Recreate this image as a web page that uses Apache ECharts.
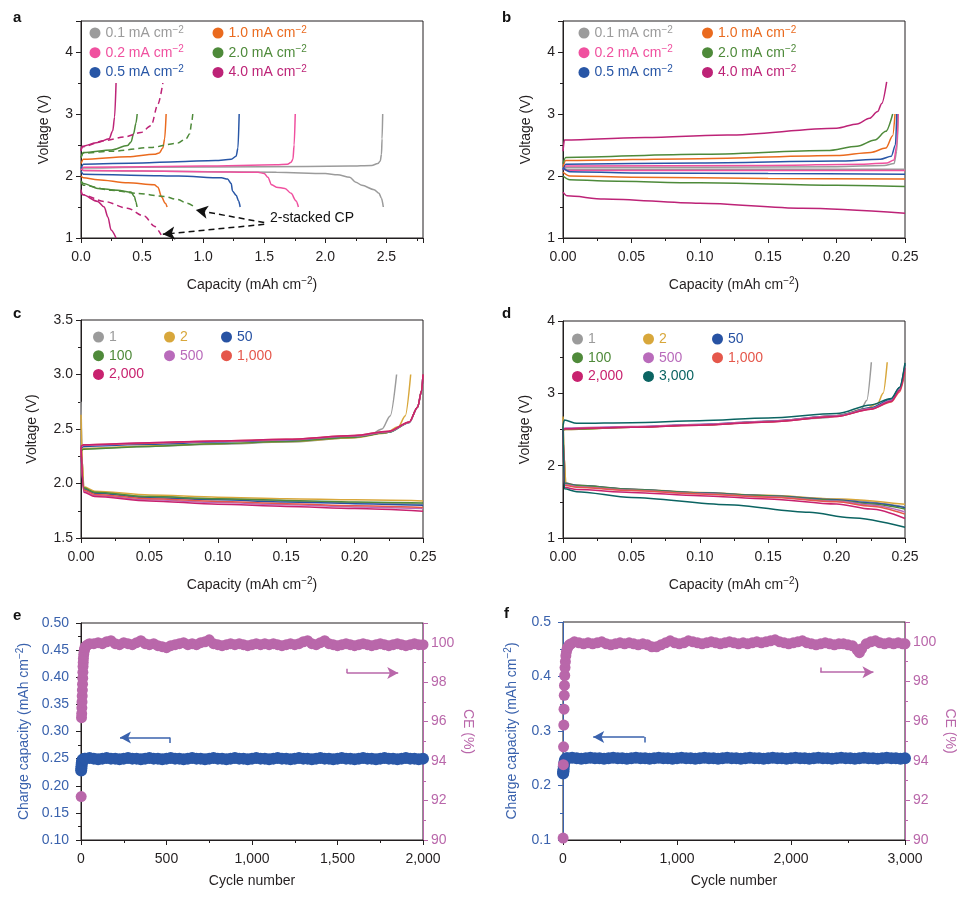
<!DOCTYPE html>
<html><head><meta charset="utf-8">
<script src="https://cdn.jsdelivr.net/npm/echarts@6/dist/echarts.min.js"></script>
<style>html,body{margin:0;padding:0;background:#fff}#c{width:970px;height:899px}</style>
</head><body><div id="c"></div><script>
// ---------- names / colours ----------
const A_NAMES = ['0.1 mA cm−2','0.2 mA cm−2','0.5 mA cm−2','1.0 mA cm−2','2.0 mA cm−2','4.0 mA cm−2'];
const A_COLORS = ['#9b9b9b','#f0509f','#2856a6','#ea6a1e','#4e8a3a','#bd2377'];
const CYC_NAMES = ['1','2','50','100','500','1,000','2,000','3,000'];
const CYC_COLORS = ['#9b9b9b','#d8a73b','#2752a3','#4f8a3a','#b96bbb','#e5574b','#c8226f','#0b6462'];
const CAP_COLOR = '#2a58a8', CE_COLOR = '#b967aa';

// ---------- panel a (capacity, voltage) ----------
const a01c = [[0,2.10],[0.02,2.13],[0.5,2.14],[1.5,2.15],[2.2,2.16],[2.38,2.17],[2.43,2.2],[2.45,2.24],[2.46,2.35],[2.465,2.6],[2.47,3.0]];
const a01d = [[0,2.12],[0.02,2.09],[0.5,2.08],[1.6,2.06],[2.0,2.04],[2.1,2.02],[2.2,1.98],[2.25,1.9],[2.3,1.85],[2.4,1.78],[2.44,1.72],[2.46,1.64],[2.475,1.5]];
const a02c = [[0,2.1],[0.02,2.14],[1.0,2.16],[1.6,2.18],[1.69,2.19],[1.72,2.22],[1.735,2.27],[1.745,2.5],[1.754,3.0]];
const a02d = [[0,2.12],[0.02,2.09],[1.0,2.07],[1.45,2.06],[1.5,2.04],[1.53,1.98],[1.56,1.86],[1.6,1.82],[1.67,1.8],[1.72,1.72],[1.76,1.6],[1.78,1.5]];
const a05c = [[0,2.12],[0.02,2.19],[0.5,2.21],[0.79,2.23],[1.1,2.25],[1.23,2.27],[1.27,2.32],[1.285,2.45],[1.295,3.0]];
const a05d = [[0,2.08],[0.02,2.03],[0.5,2.01],[0.8,2.0],[1.15,1.97],[1.2,1.95],[1.23,1.88],[1.24,1.76],[1.27,1.69],[1.29,1.6],[1.303,1.5]];
const a10c = [[0,2.2],[0.02,2.27],[0.385,2.31],[0.6,2.35],[0.64,2.37],[0.67,2.45],[0.685,2.6],[0.697,3.0]];
const a10d = [[0,2.0],[0.02,1.97],[0.137,1.94],[0.385,1.89],[0.6,1.86],[0.63,1.82],[0.66,1.66],[0.69,1.56],[0.705,1.5]];
const a20c = [[0,2.3],[0.02,2.38],[0.25,2.42],[0.38,2.49],[0.41,2.55],[0.43,2.68],[0.45,2.85],[0.46,3.0]];
const a20d = [[0,1.92],[0.02,1.88],[0.137,1.8],[0.3,1.77],[0.41,1.74],[0.437,1.67],[0.45,1.58],[0.459,1.5]];
const a40c = [[0,2.4],[0.01,2.48],[0.137,2.54],[0.23,2.6],[0.26,2.73],[0.275,2.95],[0.287,3.5]];
const a40d = [[0,1.78],[0.01,1.7],[0.137,1.59],[0.19,1.5],[0.22,1.34],[0.246,1.13],[0.287,1.0]];
const a20c_stack = [[0,2.3],[0.02,2.37],[0.25,2.4],[0.57,2.46],[0.79,2.53],[0.86,2.6],[0.89,2.68],[0.905,2.85],[0.915,3.0]];
const a20d_stack = [[0,1.9],[0.02,1.85],[0.25,1.77],[0.46,1.72],[0.68,1.67],[0.79,1.62],[0.87,1.56],[0.93,1.5]];
const a40c_stack = [[0,2.42],[0.01,2.47],[0.19,2.57],[0.355,2.63],[0.49,2.7],[0.574,2.81],[0.63,3.16],[0.67,3.5]];
const a40d_stack = [[0,1.75],[0.01,1.7],[0.19,1.59],[0.38,1.48],[0.52,1.35],[0.6,1.19],[0.656,1.05]];
const A_ARROWS = [[[1.50,1.25],[0.94,1.45]],[[1.50,1.22],[0.67,1.06]]];

// ---------- panel b ----------
const b01c = [[0,2.1],[0.002,2.14],[0.1,2.14],[0.2,2.15],[0.235,2.17],[0.242,2.2],[0.244,2.4],[0.2451,3.0]];
const b01d = [[0,2.13],[0.003,2.11],[0.25,2.11]];
const b02c = [[0,2.1],[0.002,2.16],[0.15,2.17],[0.22,2.19],[0.237,2.21],[0.242,2.26],[0.244,2.5],[0.245,3.0]];
const b02d = [[0,2.12],[0.003,2.09],[0.25,2.09]];
const b05c = [[0,2.1],[0.002,2.19],[0.1,2.21],[0.2,2.24],[0.232,2.27],[0.24,2.32],[0.243,2.5],[0.244,3.0]];
const b05d = [[0,2.13],[0.005,2.07],[0.05,2.05],[0.15,2.04],[0.25,2.03]];
const b10c = [[0,2.15],[0.002,2.25],[0.1,2.28],[0.2,2.33],[0.225,2.38],[0.236,2.45],[0.241,2.65],[0.2427,3.0]];
const b10d = [[0,2.06],[0.005,2.0],[0.05,1.98],[0.15,1.96],[0.25,1.95]];
const b20c = [[0,2.2],[0.002,2.3],[0.1,2.35],[0.193,2.41],[0.215,2.48],[0.228,2.58],[0.236,2.72],[0.241,3.0]];
const b20d = [[0,2.0],[0.005,1.94],[0.03,1.92],[0.1,1.89],[0.2,1.85],[0.25,1.83]];
const b40c = [[0,2.4],[0.001,2.58],[0.06,2.62],[0.12,2.66],[0.2,2.77],[0.215,2.84],[0.224,2.93],[0.23,3.04],[0.233,3.17],[0.2366,3.52]];
const b40d = [[0,1.74],[0.003,1.68],[0.03,1.63],[0.1,1.56],[0.175,1.48],[0.25,1.40]];

// ---------- panel c (cycle number curves) ----------
const c1c = [[0,2.3],[0.002,2.32],[0.05,2.34],[0.1,2.36],[0.15,2.38],[0.2,2.42],[0.212,2.45],[0.22,2.5],[0.226,2.62],[0.2307,3.0]];
const c1d = [[0,2.75],[0.001,2.2],[0.002,1.96],[0.01,1.92],[0.05,1.88],[0.1,1.86],[0.15,1.84],[0.2,1.825],[0.25,1.81]];
const c2c = [[0,2.3],[0.002,2.32],[0.05,2.345],[0.1,2.365],[0.15,2.385],[0.2,2.42],[0.222,2.46],[0.232,2.52],[0.237,2.62],[0.241,3.0]];
const c2d = [[0,2.63],[0.001,2.2],[0.002,1.97],[0.01,1.93],[0.05,1.895],[0.1,1.875],[0.15,1.86],[0.2,1.85],[0.25,1.84]];
const c50c = [[0,2.32],[0.002,2.34],[0.05,2.36],[0.1,2.38],[0.15,2.395],[0.2,2.43],[0.225,2.47],[0.24,2.56],[0.246,2.7],[0.249,2.85],[0.25,3.0]];
const c50d = [[0,2.3],[0.002,1.95],[0.01,1.91],[0.05,1.87],[0.1,1.85],[0.15,1.83],[0.2,1.815],[0.25,1.80]];
const c100c = [[0,2.3],[0.002,2.315],[0.05,2.34],[0.1,2.365],[0.15,2.385],[0.2,2.425],[0.225,2.47],[0.24,2.56],[0.246,2.7],[0.249,2.85],[0.25,3.0]];
const c100d = [[0,2.3],[0.002,1.96],[0.01,1.92],[0.05,1.88],[0.1,1.86],[0.15,1.845],[0.2,1.83],[0.25,1.82]];
const c500c = [[0,2.33],[0.002,2.35],[0.05,2.37],[0.1,2.385],[0.15,2.4],[0.2,2.435],[0.225,2.475],[0.24,2.56],[0.246,2.7],[0.249,2.85],[0.25,3.0]];
const c500d = [[0,2.32],[0.002,1.93],[0.01,1.89],[0.05,1.85],[0.1,1.825],[0.15,1.805],[0.2,1.785],[0.25,1.77]];
const c1000c = [[0,2.34],[0.002,2.355],[0.05,2.37],[0.1,2.39],[0.15,2.405],[0.2,2.44],[0.225,2.48],[0.24,2.565],[0.246,2.7],[0.249,2.85],[0.25,3.0]];
const c1000d = [[0,2.33],[0.002,1.94],[0.01,1.9],[0.05,1.86],[0.1,1.835],[0.15,1.815],[0.2,1.795],[0.25,1.78]];
const c2000c = [[0,2.34],[0.002,2.355],[0.05,2.375],[0.1,2.39],[0.15,2.405],[0.2,2.44],[0.225,2.48],[0.24,2.565],[0.246,2.7],[0.249,2.85],[0.25,3.0]];
const c2000d = [[0,2.34],[0.002,1.92],[0.01,1.88],[0.05,1.84],[0.1,1.81],[0.15,1.79],[0.2,1.77],[0.25,1.745]];

// ---------- panel d ----------
const d1c = [[0,2.49],[0.002,2.5],[0.05,2.53],[0.1,2.565],[0.15,2.61],[0.19,2.66],[0.21,2.72],[0.218,2.78],[0.222,2.9],[0.2254,3.43]];
const d1d = [[0,2.64],[0.001,2.1],[0.002,1.75],[0.01,1.72],[0.05,1.67],[0.1,1.625],[0.15,1.585],[0.2,1.535],[0.25,1.43]];
const d2c = [[0,2.49],[0.002,2.5],[0.05,2.53],[0.1,2.565],[0.15,2.61],[0.2,2.69],[0.222,2.79],[0.23,2.86],[0.234,3.0],[0.237,3.43]];
const d2d = [[0,2.68],[0.001,2.1],[0.002,1.76],[0.01,1.73],[0.05,1.675],[0.1,1.63],[0.15,1.59],[0.2,1.54],[0.25,1.465]];
const d50c = [[0,2.5],[0.002,2.51],[0.05,2.535],[0.1,2.57],[0.15,2.615],[0.2,2.69],[0.225,2.8],[0.24,2.92],[0.246,3.08],[0.25,3.4]];
const d50d = [[0,2.5],[0.001,1.76],[0.01,1.73],[0.05,1.675],[0.1,1.625],[0.15,1.585],[0.2,1.53],[0.225,1.485],[0.25,1.42]];
const d100c = [[0,2.5],[0.002,2.505],[0.05,2.53],[0.1,2.565],[0.15,2.61],[0.2,2.685],[0.225,2.79],[0.24,2.9],[0.246,3.06],[0.25,3.38]];
const d100d = [[0,2.5],[0.001,1.75],[0.01,1.725],[0.05,1.67],[0.1,1.62],[0.15,1.58],[0.2,1.52],[0.225,1.47],[0.25,1.40]];
const d500c = [[0,2.51],[0.002,2.52],[0.05,2.54],[0.1,2.57],[0.15,2.615],[0.2,2.69],[0.225,2.79],[0.24,2.9],[0.246,3.06],[0.25,3.38]];
const d500d = [[0,2.51],[0.001,1.74],[0.01,1.71],[0.05,1.66],[0.1,1.615],[0.15,1.57],[0.2,1.51],[0.225,1.455],[0.25,1.36]];
const d1000c = [[0,2.5],[0.002,2.51],[0.05,2.53],[0.1,2.56],[0.15,2.605],[0.2,2.68],[0.225,2.78],[0.24,2.88],[0.246,3.02],[0.25,3.3]];
const d1000d = [[0,2.5],[0.001,1.73],[0.01,1.7],[0.05,1.655],[0.1,1.61],[0.15,1.565],[0.2,1.5],[0.225,1.44],[0.25,1.33]];
const d2000c = [[0,2.5],[0.002,2.51],[0.05,2.53],[0.1,2.56],[0.15,2.605],[0.2,2.68],[0.225,2.78],[0.24,2.89],[0.246,3.04],[0.25,3.35]];
const d2000d = [[0,2.5],[0.001,1.7],[0.01,1.67],[0.05,1.63],[0.1,1.585],[0.15,1.54],[0.2,1.47],[0.225,1.4],[0.25,1.27]];
const d3000c = [[0,2.55],[0.001,2.63],[0.01,2.585],[0.05,2.595],[0.1,2.62],[0.15,2.66],[0.2,2.72],[0.225,2.84],[0.24,2.93],[0.246,3.08],[0.25,3.42]];
const d3000d = [[0,2.55],[0.001,1.68],[0.01,1.64],[0.05,1.56],[0.12,1.46],[0.18,1.355],[0.21,1.28],[0.25,1.15]];

// ---------- panel e (cycle, value) ----------
const eCap = [[1,0.228],[2,0.232],[3,0.236],[4,0.24],[5,0.243],[7,0.246],[10,0.248],[15,0.249],[20,0.25],[25,0.25],[50,0.251],[75,0.25],[100,0.249],[125,0.25],[150,0.251],[175,0.25],[200,0.25],[225,0.249],[250,0.25],[275,0.251],[300,0.25],[325,0.25],[350,0.249],[375,0.25],[400,0.251],[425,0.25],[450,0.25],[475,0.249],[500,0.25],[525,0.251],[550,0.25],[575,0.25],[600,0.249],[625,0.25],[650,0.251],[675,0.25],[700,0.25],[725,0.249],[750,0.25],[775,0.251],[800,0.25],[825,0.25],[850,0.249],[875,0.25],[900,0.251],[925,0.25],[950,0.25],[975,0.249],[1000,0.25],[1025,0.251],[1050,0.25],[1075,0.25],[1100,0.249],[1125,0.25],[1150,0.251],[1175,0.25],[1200,0.25],[1225,0.249],[1250,0.25],[1275,0.251],[1300,0.25],[1325,0.25],[1350,0.249],[1375,0.25],[1400,0.251],[1425,0.25],[1450,0.25],[1475,0.249],[1500,0.25],[1525,0.251],[1550,0.25],[1575,0.25],[1600,0.249],[1625,0.25],[1650,0.251],[1675,0.25],[1700,0.25],[1725,0.249],[1750,0.25],[1775,0.251],[1800,0.25],[1825,0.25],[1850,0.249],[1875,0.25],[1900,0.251],[1925,0.25],[1950,0.25],[1975,0.249],[2000,0.25]];
const eCE = [[1,92.2],[3,96.2],[4,96.4],[5,96.7],[6,97.0],[7,97.3],[8,97.6],[9,97.9],[10,98.2],[11,98.5],[12,98.8],[13,99.0],[14,99.2],[16,99.4],[18,99.55],[20,99.65],[23,99.75],[27,99.8],[32,99.85],[40,99.9],[50,99.95],[75,99.95],[100,100.0],[125,99.95],[150,100.05],[175,100.1],[200,99.95],[225,99.9],[250,100.0],[275,99.95],[300,99.9],[325,100.0],[350,100.1],[375,99.95],[400,99.9],[425,99.95],[450,99.85],[475,99.8],[500,99.75],[525,99.85],[550,99.9],[575,99.95],[600,100.0],[625,99.9],[650,99.95],[675,99.9],[700,100.0],[725,100.05],[750,100.15],[775,99.95],[800,99.9],[825,99.85],[850,99.9],[875,99.95],[900,99.9],[925,99.95],[950,99.9],[975,99.85],[1000,99.9],[1025,99.95],[1050,99.9],[1075,99.95],[1100,99.9],[1125,99.95],[1150,99.9],[1175,99.85],[1200,99.9],[1225,99.95],[1250,99.9],[1275,99.95],[1300,100.05],[1325,100.1],[1350,99.95],[1375,99.9],[1400,100.0],[1425,100.1],[1450,99.95],[1475,99.9],[1500,99.85],[1525,99.9],[1550,99.95],[1575,99.9],[1600,99.85],[1625,99.9],[1650,99.95],[1675,99.9],[1700,99.85],[1725,99.9],[1750,99.95],[1775,99.9],[1800,99.85],[1825,99.9],[1850,99.95],[1875,99.9],[1900,99.85],[1925,99.9],[1950,99.95],[1975,99.9],[2000,99.9]];
const E_ARROW_CAP = [[520,0.289],[228,0.289]], E_ARROW_CAP_TAIL = [[520,0.279],[520,0.289]];
const E_ARROW_CE = [[1554,98.47],[1855,98.47]], E_ARROW_CE_TAIL = [[1554,98.68],[1554,98.47]];

// ---------- panel f ----------
const fCap = [[1,0.222],[2,0.224],[3,0.226],[5,0.23],[7,0.235],[10,0.24],[15,0.245],[20,0.248],[30,0.25],[40,0.25],[80,0.251],[120,0.25],[160,0.249],[200,0.25],[240,0.251],[280,0.25],[320,0.25],[360,0.249],[400,0.25],[440,0.251],[480,0.25],[520,0.25],[560,0.249],[600,0.25],[640,0.251],[680,0.25],[720,0.25],[760,0.249],[800,0.25],[840,0.251],[880,0.25],[920,0.25],[960,0.249],[1000,0.25],[1040,0.251],[1080,0.25],[1120,0.25],[1160,0.249],[1200,0.25],[1240,0.251],[1280,0.25],[1320,0.25],[1360,0.249],[1400,0.25],[1440,0.251],[1480,0.25],[1520,0.25],[1560,0.249],[1600,0.25],[1640,0.251],[1680,0.25],[1720,0.25],[1760,0.249],[1800,0.25],[1840,0.251],[1880,0.25],[1920,0.25],[1960,0.249],[2000,0.25],[2040,0.251],[2080,0.25],[2120,0.25],[2160,0.249],[2200,0.25],[2240,0.251],[2280,0.25],[2320,0.25],[2360,0.249],[2400,0.25],[2440,0.251],[2480,0.25],[2520,0.25],[2560,0.249],[2600,0.25],[2640,0.251],[2680,0.25],[2720,0.25],[2760,0.249],[2800,0.25],[2840,0.251],[2880,0.25],[2920,0.25],[2960,0.249],[3000,0.25]];
const fCE = [[1,90.1],[3,93.8],[5,94.7],[7,95.8],[9,96.6],[11,97.3],[13,97.8],[15,98.3],[18,98.7],[21,99.0],[25,99.3],[30,99.5],[36,99.65],[45,99.75],[55,99.85],[70,99.9],[100,100.0],[140,99.95],[180,99.9],[220,99.95],[260,99.9],[300,99.95],[340,100.0],[380,99.9],[420,99.85],[460,99.9],[500,99.95],[540,99.9],[580,99.95],[620,99.9],[660,99.85],[700,99.9],[740,99.85],[780,99.75],[820,99.75],[860,99.85],[900,99.95],[940,100.05],[980,99.95],[1020,99.9],[1060,99.95],[1100,100.05],[1140,100.0],[1180,99.95],[1220,99.9],[1260,99.95],[1300,100.0],[1340,99.95],[1380,99.9],[1420,99.95],[1460,100.0],[1500,99.95],[1540,99.9],[1580,99.95],[1620,99.9],[1660,99.95],[1700,100.0],[1740,99.95],[1780,100.0],[1820,100.05],[1860,100.1],[1900,100.0],[1940,99.95],[1980,99.9],[2020,99.95],[2060,100.0],[2100,100.05],[2140,99.95],[2180,99.9],[2220,99.85],[2260,99.9],[2300,99.95],[2340,99.9],[2380,99.85],[2420,99.9],[2460,99.9],[2500,99.85],[2540,99.8],[2580,99.6],[2600,99.45],[2620,99.65],[2660,99.9],[2700,100.0],[2740,100.05],[2780,99.95],[2820,99.9],[2860,99.95],[2900,99.9],[2940,99.95],[2980,99.9],[3000,99.9]];
const F_ARROW_CAP = [[714,0.289],[265,0.289]], F_ARROW_CAP_TAIL = [[714,0.279],[714,0.289]];
const F_ARROW_CE = [[2257,98.47],[2723,98.47]], F_ARROW_CE_TAIL = [[2257,98.7],[2257,98.47]];

// ---------- tick label lists ----------
const A_XFMT = v => (v > 2.6 ? '' : v.toFixed(1));
const INT_FMT = v => (Math.abs(v - Math.round(v)) < 1e-9 ? String(Math.round(v)) : '');
const B_XFMT = v => v.toFixed(2);
const C_YFMT = v => v.toFixed(1);
const COMMA_FMT = v => v.toLocaleString('en-US');
const CE_FMT = v => (v > 100.5 ? '' : String(v));

// ---------- build ----------
const FONT = '"Liberation Sans", Arial, Helvetica, sans-serif';
const INK = '#231f20';

function nameStyle(color) {
  return { color, fontFamily: FONT, fontSize: 14,
    rich: { t: { color, fontFamily: FONT, fontSize: 14, lineHeight: 18 },
            s: { color, fontFamily: FONT, fontSize: 10, lineHeight: 10, verticalAlign: 'top' } } };
}
const CAP_NAME = '{t|Capacity (mAh cm}{s|−2}{t|)}';

function xAx(gi, min, max, interval, fmt, name, nameGap) {
  return { type: 'value', gridIndex: gi, min, max, interval, position: 'bottom',
    axisLine: { show: true, onZero: false, lineStyle: { color: INK, width: 1 } },
    axisTick: { show: true, length: 5, lineStyle: { color: INK, width: 1 } },
    minorTick: { show: true, splitNumber: 2, length: 3, lineStyle: { color: INK, width: 1 } },
    splitLine: { show: false }, minorSplitLine: { show: false },
    axisLabel: { color: INK, fontFamily: FONT, fontSize: 14, margin: 12, formatter: fmt },
    name, nameLocation: 'middle', nameGap, nameTextStyle: nameStyle(INK) };
}
function yAx(gi, min, max, interval, fmt, name, nameGap, opt) {
  opt = opt || {};
  const lineColor = opt.lineColor || INK, labelColor = opt.labelColor || INK, nameColor = opt.nameColor || INK;
  return { type: 'value', gridIndex: gi, min, max, interval, position: opt.position || 'left',
    axisLine: { show: true, onZero: false, lineStyle: { color: lineColor, width: 1 } },
    axisTick: { show: true, length: 5, lineStyle: { color: lineColor, width: 1 } },
    minorTick: { show: true, splitNumber: 2, length: 3, lineStyle: { color: lineColor, width: 1 } },
    splitLine: { show: false }, minorSplitLine: { show: false },
    axisLabel: { color: labelColor, fontFamily: FONT, fontSize: 14, margin: opt.margin || 8, formatter: fmt },
    name, nameLocation: 'middle', nameGap, nameRotate: opt.nameRotate, nameTextStyle: nameStyle(nameColor) };
}

const grids = [
  { left: 81, top: 21, width: 342, height: 217 },
  { left: 563, top: 21, width: 342, height: 217 },
  { left: 81, top: 320, width: 342, height: 218 },
  { left: 563, top: 321, width: 342, height: 217 },
  { left: 81, top: 623, width: 342, height: 217 },
  { left: 563, top: 622, width: 342, height: 218 }
].map(g => Object.assign({ show: true, borderColor: INK, borderWidth: 1, backgroundColor: 'transparent', containLabel: false }, g));

const xAxes = [
  xAx(0, 0, 2.8, 0.5, A_XFMT, CAP_NAME, 38),
  xAx(1, 0, 0.25, 0.05, B_XFMT, CAP_NAME, 38),
  xAx(2, 0, 0.25, 0.05, B_XFMT, CAP_NAME, 38),
  xAx(3, 0, 0.25, 0.05, B_XFMT, CAP_NAME, 38),
  xAx(4, 0, 2000, 500, COMMA_FMT, 'Cycle number', 34),
  xAx(5, 0, 3000, 1000, COMMA_FMT, 'Cycle number', 34)
];
const CHG_NAME = '{t|Charge capacity (mAh cm}{s|−2}{t|)}';
const yAxes = [
  yAx(0, 1, 4.5, 1, INT_FMT, 'Voltage (V)', 30),
  yAx(1, 1, 4.5, 1, INT_FMT, 'Voltage (V)', 30),
  yAx(2, 1.5, 3.5, 0.5, C_YFMT, 'Voltage (V)', 42),
  yAx(3, 1, 4, 1, INT_FMT, 'Voltage (V)', 31),
  yAx(4, 0.1, 0.5, 0.05, v => v.toFixed(2), CHG_NAME, 48, { labelColor: '#3a62ad', nameColor: '#3a62ad', margin: 12 }),
  yAx(4, 90, 101, 2, CE_FMT, 'CE (%)', 38, { position: 'right', lineColor: CE_COLOR, labelColor: CE_COLOR, nameColor: CE_COLOR, nameRotate: -90 }),
  yAx(5, 0.1, 0.5, 0.1, v => v.toFixed(1), CHG_NAME, 42, { labelColor: '#3a62ad', nameColor: '#3a62ad', lineColor: '#3a62ad', margin: 12 }),
  yAx(5, 90, 101, 2, CE_FMT, 'CE (%)', 38, { position: 'right', lineColor: CE_COLOR, labelColor: CE_COLOR, nameColor: CE_COLOR, nameRotate: -90 })
];

const series = [];
function addLine(name, data, color, idx, dashed, extra) {
  series.push(Object.assign({ type: 'line', name, data, xAxisIndex: idx, yAxisIndex: idx,
    showSymbol: false, symbol: 'none', smooth: 0.3, smoothMonotone: 'x', clip: true,
    lineStyle: { color, width: 1.5, type: dashed ? [6, 4] : 'solid' },
    itemStyle: { color, borderWidth: 0 }, emphasis: { disabled: true }, silent: true, z: 2 }, extra || {}));
}
// a
const A_SOLID = [[a01c, a01d], [a02c, a02d], [a05c, a05d], [a10c, a10d], [a20c, a20d], [a40c, a40d]];
A_SOLID.forEach((p, i) => { addLine(A_NAMES[i], p[0], A_COLORS[i], 0); addLine(A_NAMES[i], p[1], A_COLORS[i], 0); });
addLine(A_NAMES[4], a20c_stack, A_COLORS[4], 0, true);
addLine(A_NAMES[4], a20d_stack, A_COLORS[4], 0, true, {
  markLine: { silent: true, animation: false, symbol: ['none', 'arrow'], symbolSize: [10, 12], label: { show: false },
    lineStyle: { color: '#111', width: 1.5, type: [6, 4] }, emphasis: { disabled: true },
    data: A_ARROWS.map(s => [{ coord: s[0] }, { coord: s[1] }]) } });
addLine(A_NAMES[5], a40c_stack, A_COLORS[5], 0, true);
addLine(A_NAMES[5], a40d_stack, A_COLORS[5], 0, true);
// b
const B_SET = [[b01c, b01d], [b02c, b02d], [b05c, b05d], [b10c, b10d], [b20c, b20d], [b40c, b40d]];
B_SET.forEach((p, i) => { addLine(A_NAMES[i], p[0], A_COLORS[i], 1); addLine(A_NAMES[i], p[1], A_COLORS[i], 1); });
// c
const C_SET = [[c1c, c1d], [c2c, c2d], [c50c, c50d], [c100c, c100d], [c500c, c500d], [c1000c, c1000d], [c2000c, c2000d]];
C_SET.forEach((p, i) => { addLine(CYC_NAMES[i], p[0], CYC_COLORS[i], 2); addLine(CYC_NAMES[i], p[1], CYC_COLORS[i], 2); });
// d
const D_SET = [[d1c, d1d], [d2c, d2d], [d50c, d50d], [d100c, d100d], [d500c, d500d], [d1000c, d1000d], [d2000c, d2000d], [d3000c, d3000d]];
D_SET.forEach((p, i) => { addLine(CYC_NAMES[i], p[0], CYC_COLORS[i], 3); addLine(CYC_NAMES[i], p[1], CYC_COLORS[i], 3); });

function arrowML(color, main, tail) {
  return { silent: true, animation: false, symbol: ['none', 'arrow'], symbolSize: [9, 11], label: { show: false },
    lineStyle: { color, width: 1.5, type: 'solid' }, emphasis: { disabled: true },
    data: [[{ coord: main[0] }, { coord: main[1] }], [{ coord: tail[0], symbol: 'none' }, { coord: tail[1], symbol: 'none' }]] };
}
function addScatter(name, data, color, xi, yi, size, ml) {
  series.push({ type: 'scatter', name, data, xAxisIndex: xi, yAxisIndex: yi, symbol: 'circle', symbolSize: size,
    itemStyle: { color, opacity: 1 }, emphasis: { disabled: true }, silent: true, markLine: ml, z: 3 });
}
addScatter('Charge capacity e', eCap, CAP_COLOR, 4, 4, 12, arrowML('#3a62ad', E_ARROW_CAP, E_ARROW_CAP_TAIL));
addScatter('CE e', eCE, CE_COLOR, 4, 5, 11, arrowML(CE_COLOR, E_ARROW_CE, E_ARROW_CE_TAIL));
addScatter('Charge capacity f', fCap, CAP_COLOR, 5, 6, 12, arrowML('#3a62ad', F_ARROW_CAP, F_ARROW_CAP_TAIL));
addScatter('CE f', fCE, CE_COLOR, 5, 7, 11, arrowML(CE_COLOR, F_ARROW_CE, F_ARROW_CE_TAIL));

// legends
const RICH = {};
A_COLORS.forEach((c, i) => {
  RICH['a' + i] = { color: c, fontFamily: FONT, fontSize: 14, lineHeight: 16 };
  RICH['a' + i + 's'] = { color: c, fontFamily: FONT, fontSize: 10, lineHeight: 10, verticalAlign: 'top' };
});
CYC_COLORS.forEach((c, i) => { RICH['c' + i] = { color: c, fontFamily: FONT, fontSize: 14, lineHeight: 16 }; });
function fmtLegend(name) {
  let i = A_NAMES.indexOf(name);
  if (i >= 0) return '{a' + i + '|' + name.slice(0, -2) + '}{a' + i + 's|−2}';
  i = CYC_NAMES.indexOf(name);
  return '{c' + i + '|' + name + '}';
}
function legend(names, left, top) {
  return { orient: 'vertical', left, top, padding: 0, itemGap: 4.7, itemWidth: 11, itemHeight: 11, icon: 'circle',
    selectedMode: false, data: names, formatter: fmtLegend, textStyle: { fontFamily: FONT, fontSize: 14, rich: RICH } };
}
const legends = [
  legend([A_NAMES[0], A_NAMES[1], A_NAMES[2]], 89.5, 25),
  legend([A_NAMES[3], A_NAMES[4], A_NAMES[5]], 212.5, 25),
  legend([A_NAMES[0], A_NAMES[1], A_NAMES[2]], 578.5, 25),
  legend([A_NAMES[3], A_NAMES[4], A_NAMES[5]], 702, 25),
  legend(['1', '100', '2,000'], 93, 330),
  legend(['2', '500'], 164, 330),
  legend(['50', '1,000'], 221, 330),
  legend(['1', '100', '2,000'], 572, 332),
  legend(['2', '500', '3,000'], 643, 332),
  legend(['50', '1,000'], 712, 332)
];

const letters = [['a', 13, 10], ['b', 502, 10], ['c', 13, 306], ['d', 502, 306], ['e', 13, 608], ['f', 504, 606]];
const graphic = letters.map(l => ({ type: 'text', left: l[1], top: l[2], silent: true,
  style: { text: l[0], font: 'bold 15px ' + FONT, fill: '#111' } }));
graphic.push({ type: 'text', left: 270, top: 211, silent: true, style: { text: '2-stacked CP', font: '14px ' + FONT, fill: '#111' } });

const chart = echarts.init(document.getElementById('c'), null, { renderer: 'canvas' });
chart.setOption({ animation: false, backgroundColor: '#fff', grid: grids, xAxis: xAxes, yAxis: yAxes,
  legend: legends, series, graphic, tooltip: { show: false } });
</script></body></html>
